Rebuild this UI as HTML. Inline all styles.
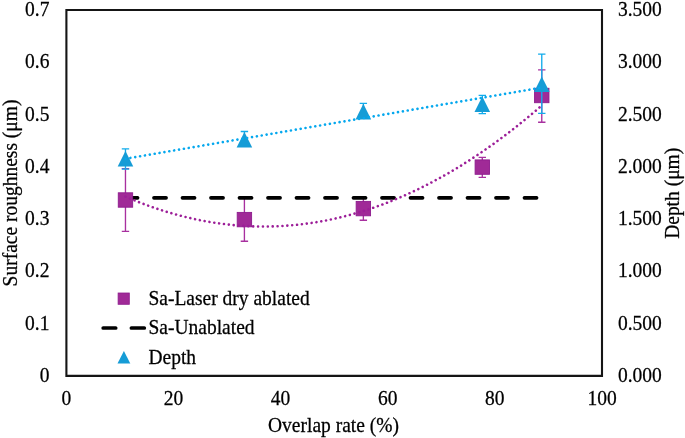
<!DOCTYPE html>
<html><head><meta charset="utf-8"><style>html,body{margin:0;padding:0;background:#fff;}svg{display:block;will-change:transform;}</style></head>
<body><svg width="685" height="438" viewBox="0 0 685 438">
<rect x="0" y="0" width="685" height="438" fill="#fff"/>
<path d="M66.4 10.05H602.0V375.9H66.4Z" fill="none" stroke="#151515" stroke-width="2.1"/>
<g font-family="Liberation Serif, serif" font-size="19.5" fill="#000" stroke="#000" stroke-width="0.25">
<text transform="translate(49.4,382.0) scale(1,1.025)" text-anchor="end">0</text>
<text transform="translate(49.4,329.74) scale(1,1.025)" text-anchor="end">0.1</text>
<text transform="translate(49.4,277.47) scale(1,1.025)" text-anchor="end">0.2</text>
<text transform="translate(49.4,225.21) scale(1,1.025)" text-anchor="end">0.3</text>
<text transform="translate(49.4,172.94) scale(1,1.025)" text-anchor="end">0.4</text>
<text transform="translate(49.4,120.68) scale(1,1.025)" text-anchor="end">0.5</text>
<text transform="translate(49.4,68.41) scale(1,1.025)" text-anchor="end">0.6</text>
<text transform="translate(49.4,16.15) scale(1,1.025)" text-anchor="end">0.7</text>
<text transform="translate(618.0,382.0) scale(1,1.025)">0.000</text>
<text transform="translate(618.0,329.74) scale(1,1.025)">0.500</text>
<text transform="translate(618.0,277.47) scale(1,1.025)">1.000</text>
<text transform="translate(618.0,225.21) scale(1,1.025)">1.500</text>
<text transform="translate(618.0,172.94) scale(1,1.025)">2.000</text>
<text transform="translate(618.0,120.68) scale(1,1.025)">2.500</text>
<text transform="translate(618.0,68.41) scale(1,1.025)">3.000</text>
<text transform="translate(618.0,16.15) scale(1,1.025)">3.500</text>
<text transform="translate(66.3,405.3) scale(1,1.025)" text-anchor="middle">0</text>
<text transform="translate(173.44,405.3) scale(1,1.025)" text-anchor="middle">20</text>
<text transform="translate(280.58,405.3) scale(1,1.025)" text-anchor="middle">40</text>
<text transform="translate(387.72,405.3) scale(1,1.025)" text-anchor="middle">60</text>
<text transform="translate(494.86,405.3) scale(1,1.025)" text-anchor="middle">80</text>
<text transform="translate(602.0,405.3) scale(1,1.025)" text-anchor="middle">100</text>
<text transform="translate(333.5,432.4) scale(1,1.035)" text-anchor="middle">Overlap rate (%)</text>
<text transform="translate(16.6,193.0) rotate(-90) scale(1,1.035)" text-anchor="middle">Surface roughness (μm)</text>
<text transform="translate(678.6,193.3) rotate(-90) scale(1,1.035)" text-anchor="middle">Depth (μm)</text>
</g>
<path d="M125.47 168.60V231.40M121.77 168.60H129.17M121.77 231.40H129.17" stroke="#A8309F" stroke-width="1.35" fill="none"/>
<path d="M244.41 198.00V241.20M240.71 198.00H248.11M240.71 241.20H248.11" stroke="#A8309F" stroke-width="1.35" fill="none"/>
<path d="M363.36 197.80V220.20M359.66 197.80H367.06M359.66 220.20H367.06" stroke="#A8309F" stroke-width="1.35" fill="none"/>
<path d="M482.30 157.30V177.40M478.60 157.30H486.00M478.60 177.40H486.00" stroke="#A8309F" stroke-width="1.35" fill="none"/>
<path d="M541.77 69.80V122.20M538.07 69.80H545.47M538.07 122.20H545.47" stroke="#A8309F" stroke-width="1.35" fill="none"/>
<path d="M125.47 197.85H541.77" stroke="#000" stroke-width="3.7" stroke-linecap="round" stroke-dasharray="12.1 16.4" fill="none"/>
<rect x="118.27" y="192.80" width="14.4" height="14.4" fill="#A02A97" stroke="#8E1C8E" stroke-width="0.9"/>
<rect x="237.21" y="212.40" width="14.4" height="14.4" fill="#A02A97" stroke="#8E1C8E" stroke-width="0.9"/>
<rect x="356.16" y="201.40" width="14.4" height="14.4" fill="#A02A97" stroke="#8E1C8E" stroke-width="0.9"/>
<rect x="475.10" y="159.90" width="14.4" height="14.4" fill="#A02A97" stroke="#8E1C8E" stroke-width="0.9"/>
<rect x="534.57" y="88.30" width="14.4" height="14.4" fill="#A02A97" stroke="#8E1C8E" stroke-width="0.9"/>
<path d="M125.47 196.63 L129.68 198.42 L133.88 200.16 L138.09 201.84 L142.29 203.47 L146.50 205.04 L150.70 206.55 L154.91 208.01 L159.11 209.42 L163.32 210.77 L167.52 212.06 L171.73 213.30 L175.93 214.48 L180.14 215.61 L184.34 216.68 L188.55 217.70 L192.75 218.66 L196.96 219.57 L201.16 220.42 L205.37 221.21 L209.57 221.95 L213.78 222.64 L217.98 223.27 L222.19 223.84 L226.39 224.36 L230.60 224.82 L234.80 225.23 L239.01 225.58 L243.21 225.88 L247.42 226.12 L251.62 226.31 L255.83 226.44 L260.03 226.52 L264.24 226.54 L268.44 226.50 L272.65 226.41 L276.85 226.27 L281.06 226.07 L285.26 225.81 L289.47 225.50 L293.67 225.13 L297.88 224.71 L302.08 224.23 L306.29 223.70 L310.49 223.11 L314.70 222.46 L318.90 221.77 L323.11 221.01 L327.31 220.20 L331.52 219.34 L335.72 218.42 L339.93 217.44 L344.13 216.41 L348.34 215.32 L352.54 214.18 L356.75 212.98 L360.95 211.73 L365.16 210.42 L369.36 209.06 L373.57 207.64 L377.77 206.16 L381.98 204.63 L386.18 203.05 L390.39 201.41 L394.59 199.71 L398.80 197.96 L403.00 196.16 L407.21 194.30 L411.41 192.38 L415.62 190.41 L419.82 188.38 L424.03 186.30 L428.23 184.16 L432.44 181.96 L436.64 179.71 L440.85 177.41 L445.05 175.05 L449.26 172.63 L453.46 170.16 L457.67 167.64 L461.87 165.06 L466.08 162.42 L470.28 159.73 L474.49 156.98 L478.69 154.18 L482.90 151.32 L487.10 148.41 L491.31 145.44 L495.51 142.41 L499.72 139.33 L503.92 136.20 L508.13 133.01 L512.33 129.76 L516.54 126.46 L520.74 123.10 L524.95 119.69 L529.15 116.23 L533.36 112.70 L537.56 109.13 L541.77 105.49" stroke="#9C1E98" stroke-width="2.6" stroke-linecap="round" stroke-dasharray="0.01 4.875" fill="none"/>
<path d="M125.47 148.80V169.10M121.77 148.80H129.17M121.77 169.10H129.17" stroke="#12ACEC" stroke-width="1.35" fill="none"/>
<path d="M244.41 131.50V145.70M240.71 131.50H248.11M240.71 145.70H248.11" stroke="#12ACEC" stroke-width="1.35" fill="none"/>
<path d="M363.36 103.30V117.60M359.66 103.30H367.06M359.66 117.60H367.06" stroke="#12ACEC" stroke-width="1.35" fill="none"/>
<path d="M482.30 95.30V113.60M478.60 95.30H486.00M478.60 113.60H486.00" stroke="#12ACEC" stroke-width="1.35" fill="none"/>
<path d="M541.77 54.10V113.30M538.07 54.10H545.47M538.07 113.30H545.47" stroke="#12ACEC" stroke-width="1.35" fill="none"/>
<path d="M125.47 151.00L133.27 166.60L117.67 166.60Z" fill="#169CD6"/>
<path d="M244.41 131.90L252.21 147.50L236.61 147.50Z" fill="#169CD6"/>
<path d="M363.36 103.80L371.16 119.40L355.56 119.40Z" fill="#169CD6"/>
<path d="M482.30 96.40L490.10 112.00L474.50 112.00Z" fill="#169CD6"/>
<path d="M541.77 76.50L549.57 92.10L533.97 92.10Z" fill="#169CD6"/>
<path d="M125.47 158.77L541.77 87.58" stroke="#05A8EE" stroke-width="2.65" stroke-linecap="round" stroke-dasharray="0.01 4.927" fill="none"/>
<rect x="118.1" y="293.0" width="11.2" height="11.3" fill="#A02A97" stroke="#8E1C8E" stroke-width="0.8"/>
<path d="M103.2 328H115.7M131.4 328H144.3" stroke="#000" stroke-width="3.7" stroke-linecap="round" fill="none"/>
<path d="M123.9 351.0L130.3 363.4L117.5 363.4Z" fill="#169CD6"/>
<g font-family="Liberation Serif, serif" font-size="19.5" fill="#000" stroke="#000" stroke-width="0.25">
<text transform="translate(148.5,304.9) scale(1,1.035)">Sa-Laser dry ablated</text>
<text transform="translate(148.5,334.3) scale(1,1.035)">Sa-Unablated</text>
<text transform="translate(148.5,363.5) scale(1,1.035)">Depth</text>
</g>
</svg></body></html>
